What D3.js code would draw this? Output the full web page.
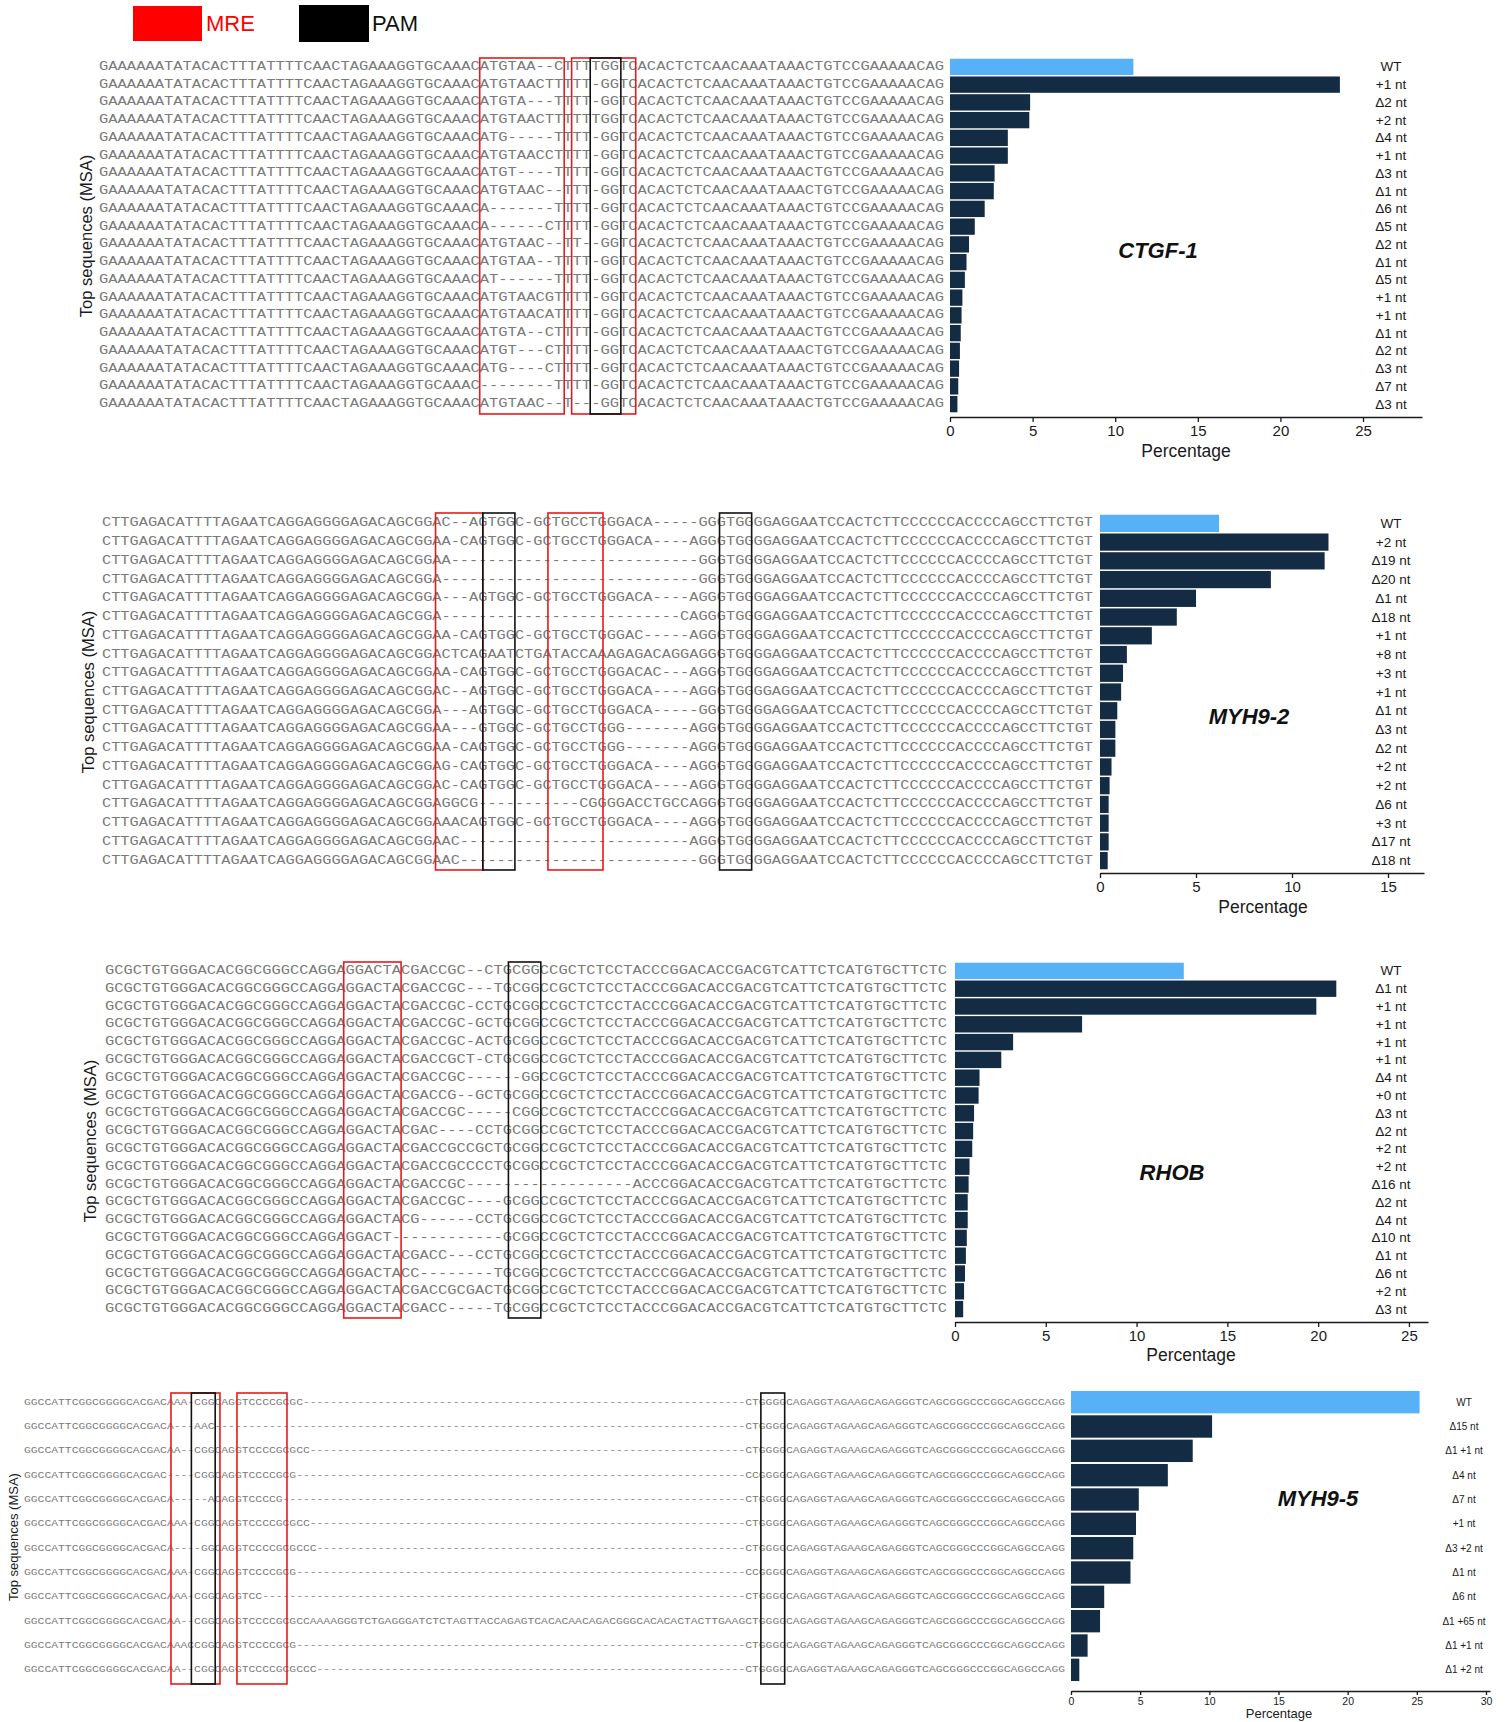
<!DOCTYPE html>
<html>
<head>
<meta charset="utf-8">
<script src="https://d3js.org/d3.v7.min.js"></script>
<style>
  body { margin: 0; background: #fff; }
  svg text { font-family: "Liberation Sans", Arial, sans-serif; }
  .seq { font-family: "Liberation Mono", "Courier New", monospace; fill: #7a7a7a; }
  .axis path, .axis line { stroke: #1a1a1a; stroke-width: 1.3; }
  .axis text { fill: #1a1a1a; font-family: "Liberation Sans", Arial, sans-serif; }
</style>
</head>
<body>
<svg id="chart" width="1510" height="1722"></svg>
<script>
const gap = n => "-".repeat(n);

// ---- CTGF-1 ----
const ctgfLeft = "GAAAAAATATACACTTTATTTTCAACTAGAAAGGTGCAAAC";
const ctgfRight = "ACACTCTCAACAAATAAACTGTCCGAAAAACAG";
const ctgfCore = [
  "ATGTAA--CTTTTGGTC", "ATGTAACTTTTT-GGTC", "ATGTA---TTTT-GGTC", "ATGTAACTTTTTTGGTC",
  "ATG-----TTTT-GGTC", "ATGTAACCTTTT-GGTC", "ATGT----TTTT-GGTC", "ATGTAAC--TTT-GGTC",
  "A-------TTTT-GGTC", "A------CTTTT-GGTC", "ATGTAAC--TT--GGTC", "ATGTAA--TTTT-GGTC",
  "AT------TTTT-GGTC", "ATGTAACGTTTT-GGTC", "ATGTAACATTTT-GGTC", "ATGTA--CTTTT-GGTC",
  "ATGT---CTTTT-GGTC", "ATG----CTTTT-GGTC", "--------TTTT-GGTC", "ATGTAAC--T---GGTC"
];
const ctgfAllele = ["WT", "+1 nt", "Δ2 nt", "+2 nt", "Δ4 nt", "+1 nt", "Δ3 nt", "Δ1 nt", "Δ6 nt", "Δ5 nt",
  "Δ2 nt", "Δ1 nt", "Δ5 nt", "+1 nt", "+1 nt", "Δ1 nt", "Δ2 nt", "Δ3 nt", "Δ7 nt", "Δ3 nt"];
const ctgfPct = [11.1, 23.6, 4.85, 4.8, 3.5, 3.5, 2.7, 2.65, 2.1, 1.5,
  1.15, 1.0, 0.9, 0.75, 0.7, 0.65, 0.6, 0.55, 0.5, 0.45];

// ---- MYH9-2 ----
const myh2Left = "CTTGAGACATTTTAGAATCAGGAGGGGAGACAGCGGA";
const myh2Right = "TGGGGAGGAATCCACTCTTCCCCCCACCCCAGCCTTCTGT";
const myh2Core = [
  "C--AGTGGC-GCTGCCTGGGACA-----GGG", "A-CAGTGGC-GCTGCCTGGGACA----AGGG",
  "A" + gap(27) + "GGG", gap(28) + "GGG",
  "---AGTGGC-GCTGCCTGGGACA----AGGG", gap(26) + "CAGGG",
  "A-CAGTGGC-GCTGCCTGGGAC-----AGGG", "CTCAGAATCTGATACCAAAGAGACAGGAGGG",
  "A-CAGTGGC-GCTGCCTGGGACAC---AGGG", "C--AGTGGC-GCTGCCTGGGACA----AGGG",
  "---AGTGGC-GCTGCCTGGGACA-----GGG", "A---GTGGC-GCTGCCTGGG-------AGGG",
  "A-CAGTGGC-GCTGCCTGGG-------AGGG", "G-CAGTGGC-GCTGCCTGGGACA----AGGG",
  "C-CAGTGGC-GCTGCCTGGGACA----AGGG", "GGCG" + gap(11) + "CGGGGACCTGCCAGGG",
  "AACAGTGGC-GCTGCCTGGGACA----AGGG", "AC" + gap(25) + "AGGG",
  "AC" + gap(26) + "GGG"
];
const myh2Allele = ["WT", "+2 nt", "Δ19 nt", "Δ20 nt", "Δ1 nt", "Δ18 nt", "+1 nt", "+8 nt", "+3 nt", "+1 nt",
  "Δ1 nt", "Δ3 nt", "Δ2 nt", "+2 nt", "+2 nt", "Δ6 nt", "+3 nt", "Δ17 nt", "Δ18 nt"];
const myh2Pct = [6.2, 11.9, 11.7, 8.9, 5.0, 4.0, 2.7, 1.4, 1.2, 1.1,
  0.9, 0.8, 0.8, 0.6, 0.5, 0.45, 0.45, 0.45, 0.4];

// ---- RHOB ----
const rhobLeft = "GCGCTGTGGGACACGGCGGGCCAGGA";
const rhobRight = "ACCCGGACACCGACGTCATTCTCATGTGCTTCTC";
const rhobCore = [
  "GGACTACGACCGC--CTGCGGCCGCTCTCCT", "GGACTACGACCGC---TGCGGCCGCTCTCCT",
  "GGACTACGACCGC-CCTGCGGCCGCTCTCCT", "GGACTACGACCGC-GCTGCGGCCGCTCTCCT",
  "GGACTACGACCGC-ACTGCGGCCGCTCTCCT", "GGACTACGACCGCT-CTGCGGCCGCTCTCCT",
  "GGACTACGACCGC------GGCCGCTCTCCT", "GGACTACGACCG--GCTGCGGCCGCTCTCCT",
  "GGACTACGACCGC-----CGGCCGCTCTCCT", "GGACTACGAC----CCTGCGGCCGCTCTCCT",
  "GGACTACGACCGCCGCTGCGGCCGCTCTCCT", "GGACTACGACCGCCCCTGCGGCCGCTCTCCT",
  "GGACTACGACCGC" + gap(18), "GGACTACGACCGC----GCGGCCGCTCTCCT",
  "GGACTACG------CCTGCGGCCGCTCTCCT", "GGACT" + gap(12) + "GCGGCCGCTCTCCT",
  "GGACTACGACC---CCTGCGGCCGCTCTCCT", "GGACTACC--------TGCGGCCGCTCTCCT",
  "GGACTACGACCGCGACTGCGGCCGCTCTCCT", "GGACTACGACC-----TGCGGCCGCTCTCCT"
];
const rhobAllele = ["WT", "Δ1 nt", "+1 nt", "+1 nt", "+1 nt", "+1 nt", "Δ4 nt", "+0 nt", "Δ3 nt", "Δ2 nt",
  "+2 nt", "+2 nt", "Δ16 nt", "Δ2 nt", "Δ4 nt", "Δ10 nt", "Δ1 nt", "Δ6 nt", "+2 nt", "Δ3 nt"];
const rhobPct = [12.6, 21.0, 19.9, 7.0, 3.2, 2.55, 1.35, 1.3, 1.05, 1.0,
  0.95, 0.8, 0.75, 0.7, 0.7, 0.65, 0.6, 0.55, 0.5, 0.45];

// ---- MYH9-5 ----
const myh5Left = "GGCCATTCGGCGGGGCACGAC";
const myh5Right = "GGGGCAGAGGTAGAAGCAGAGGGTCAGCGGGCCCGGCAGGCCAGG";
const myh5Insert = "CAAAAGGGTCTGAGGGATCTCTAGTTACCAGAGTCACACAACAGACGGGCACACACTACTTGAAG";
const myh5Core = [
  "AAA-CGGCAGGTCCCCGCGC" + gap(65) + "CT",
  "A---AAC" + gap(78) + "CT",
  "AA--CGGCAGGTCCCCGCGCC" + gap(64) + "CT",
  "----CGGCAGGTCCCCGCG" + gap(66) + "CC",
  "A-----ACAGGTCCCCG" + gap(68) + "CT",
  "AAA-CGGCAGGTCCCCGCGCC" + gap(64) + "CT",
  "A----GGCAGGTCCCCGCGCCC" + gap(63) + "CT",
  "AAA-CGGCAGGTCCCCGCG" + gap(66) + "CC",
  "AAA-CGGCAGGTCC" + gap(71) + "CT",
  "AA--CGGCAGGTCCCCGCGC" + myh5Insert + "CT",
  "AAACCGGCAGGTCCCCGCG" + gap(66) + "CT",
  "AA--CGGCAGGTCCCCGCGCCC" + gap(63) + "CT"
];
const myh5Allele = ["WT", "Δ15 nt", "Δ1 +1 nt", "Δ4 nt", "Δ7 nt", "+1 nt", "Δ3 +2 nt", "Δ1 nt",
  "Δ6 nt", "Δ1 +65 nt", "Δ1 +1 nt", "Δ1 +2 nt"];
const myh5Pct = [25.2, 10.2, 8.8, 7.0, 4.9, 4.7, 4.5, 4.3, 2.4, 2.1, 1.2, 0.6];

const ticks25 = [0, 5, 10, 15, 20, 25];
const ticks15 = [0, 5, 10, 15];
const ticks30 = [0, 5, 10, 15, 20, 25, 30];

const panels = [
  { name: "CTGF-1", seqs: ctgfCore.map(c => ctgfLeft + c + ctgfRight), allele: ctgfAllele, pct: ctgfPct,
    ticks: ticks25, xMax: 28.57, seqX: [99, 944], rowY: [58, 413], barX: [950, 1422], axisY: 417,
    labelX: 1391, nameXY: [1158, 250], titleXY: [86, 236], pctXY: [1186, 451],
    seqFont: 12.5, lblFont: 13.5, tickFont: 15, pctFont: 17.5, titleFont: 16.5, boxY: [58, 414],
    boxes: [["red", 41.0, 50.1], ["red", 50.9, 57.8], ["black", 52.9, 56.2]] },
  { name: "MYH9-2", seqs: myh2Core.map(c => myh2Left + c + myh2Right), allele: myh2Allele, pct: myh2Pct,
    ticks: ticks15, xMax: 16.875, seqX: [102, 1093], rowY: [514, 870], barX: [1100, 1424], axisY: 873,
    labelX: 1391, nameXY: [1249, 716], titleXY: [88, 692], pctXY: [1263, 907],
    seqFont: 12.5, lblFont: 13.5, tickFont: 15, pctFont: 17.5, titleFont: 16.5, boxY: [513, 870],
    boxes: [["red", 36.35, 41.5], ["black", 41.5, 45.0], ["red", 48.6, 54.6], ["black", 67.3, 70.8]] },
  { name: "RHOB", seqs: rhobCore.map(c => rhobLeft + c + rhobRight), allele: rhobAllele, pct: rhobPct,
    ticks: ticks25, xMax: 26.05, seqX: [105, 947], rowY: [962, 1318], barX: [955, 1428], axisY: 1322,
    labelX: 1391, nameXY: [1172, 1172], titleXY: [90, 1141], pctXY: [1191, 1355],
    seqFont: 12.5, lblFont: 13.5, tickFont: 15, pctFont: 17.5, titleFont: 16.5, boxY: [962, 1318],
    boxes: [["red", 25.8, 32.0], ["black", 43.6, 47.1]] },
  { name: "MYH9-5", seqs: myh5Core.map(c => myh5Left + c + myh5Right), allele: myh5Allele, pct: myh5Pct,
    ticks: ticks30, xMax: 30.29, seqX: [24, 1065], rowY: [1390, 1682], barX: [1071, 1490], axisY: 1691,
    labelX: 1464, nameXY: [1318, 1498], titleXY: [13, 1537], pctXY: [1279, 1713],
    seqFont: 9.5, lblFont: 10, tickFont: 10.5, pctFont: 13, titleFont: 13, boxY: [1393, 1684],
    boxes: [["red", 21.6, 28.8], ["black", 24.6, 28.1], ["red", 31.3, 38.65], ["black", 108.3, 111.8]] }
];

const svg = d3.select("#chart");

// legend
const legend = svg.append("g");
legend.append("rect").attr("x", 133).attr("y", 6).attr("width", 69).attr("height", 35).attr("fill", "#ff0000");
legend.append("text").attr("x", 206).attr("y", 31).attr("font-size", 22).attr("fill", "#ff0000").text("MRE");
legend.append("rect").attr("x", 299).attr("y", 5).attr("width", 70).attr("height", 37).attr("fill", "#000");
legend.append("text").attr("x", 372).attr("y", 31).attr("font-size", 22).attr("fill", "#111").text("PAM");

panels.forEach(p => {
  const g = svg.append("g");
  const n = p.seqs.length;
  const nCol = p.seqs[0].length;
  const idx = d3.range(n);

  const y = d3.scaleBand().domain(idx).range(p.rowY).paddingInner(0.08).paddingOuter(0.04);
  const col = d3.scaleLinear().domain([0, nCol]).range(p.seqX);
  const x = d3.scaleLinear().domain([0, p.xMax]).range(p.barX);

  // sequences
  g.selectAll("text.seq").data(p.seqs).enter().append("text")
    .attr("class", "seq")
    .attr("x", col(0))
    .attr("y", (d, i) => y(i) + y.bandwidth() / 2)
    .attr("dominant-baseline", "central")
    .attr("font-size", p.seqFont)
    .attr("textLength", d => col(d.length) - col(0))
    .attr("lengthAdjust", "spacingAndGlyphs")
    .text(d => d);

  // MRE / PAM boxes
  g.selectAll("rect.box").data(p.boxes).enter().append("rect")
    .attr("class", "box")
    .attr("x", d => col(d[1]))
    .attr("width", d => col(d[2]) - col(d[1]))
    .attr("y", p.boxY[0])
    .attr("height", p.boxY[1] - p.boxY[0])
    .attr("fill", "none")
    .attr("stroke", d => d[0] === "red" ? "#e8191c" : "#111")
    .attr("stroke-width", 1.6);

  // bars
  g.selectAll("rect.bar").data(p.pct).enter().append("rect")
    .attr("class", "bar")
    .attr("x", x(0))
    .attr("y", (d, i) => y(i))
    .attr("width", d => x(d) - x(0))
    .attr("height", y.bandwidth())
    .attr("fill", (d, i) => i === 0 ? "#56B1F7" : "#132B43");

  // allele labels
  g.selectAll("text.allele").data(p.allele).enter().append("text")
    .attr("class", "allele")
    .attr("x", p.labelX)
    .attr("y", (d, i) => y(i) + y.bandwidth() / 2)
    .attr("dominant-baseline", "central")
    .attr("text-anchor", "middle")
    .attr("font-size", p.lblFont)
    .attr("fill", "#1a1a1a")
    .text(d => d);

  // x axis
  const ax = g.append("g")
    .attr("class", "axis")
    .attr("transform", "translate(0," + p.axisY + ")")
    .call(d3.axisBottom(x).tickValues(p.ticks).tickSize(p.tickFont > 12 ? 5 : 4).tickSizeOuter(0));
  ax.selectAll("text").attr("font-size", p.tickFont);

  g.append("text")
    .attr("x", p.pctXY[0]).attr("y", p.pctXY[1])
    .attr("text-anchor", "middle").attr("dominant-baseline", "central")
    .attr("font-size", p.pctFont).attr("fill", "#1a1a1a")
    .text("Percentage");

  g.append("text")
    .attr("transform", "translate(" + p.titleXY[0] + "," + p.titleXY[1] + ") rotate(-90)")
    .attr("text-anchor", "middle").attr("dominant-baseline", "central")
    .attr("font-size", p.titleFont).attr("fill", "#1a1a1a")
    .text("Top sequences (MSA)");

  g.append("text")
    .attr("x", p.nameXY[0]).attr("y", p.nameXY[1])
    .attr("text-anchor", "middle").attr("dominant-baseline", "central")
    .attr("font-size", 22).attr("font-weight", "bold").attr("font-style", "italic")
    .attr("fill", "#111")
    .text(p.name);
});
</script>
</body>
</html>
